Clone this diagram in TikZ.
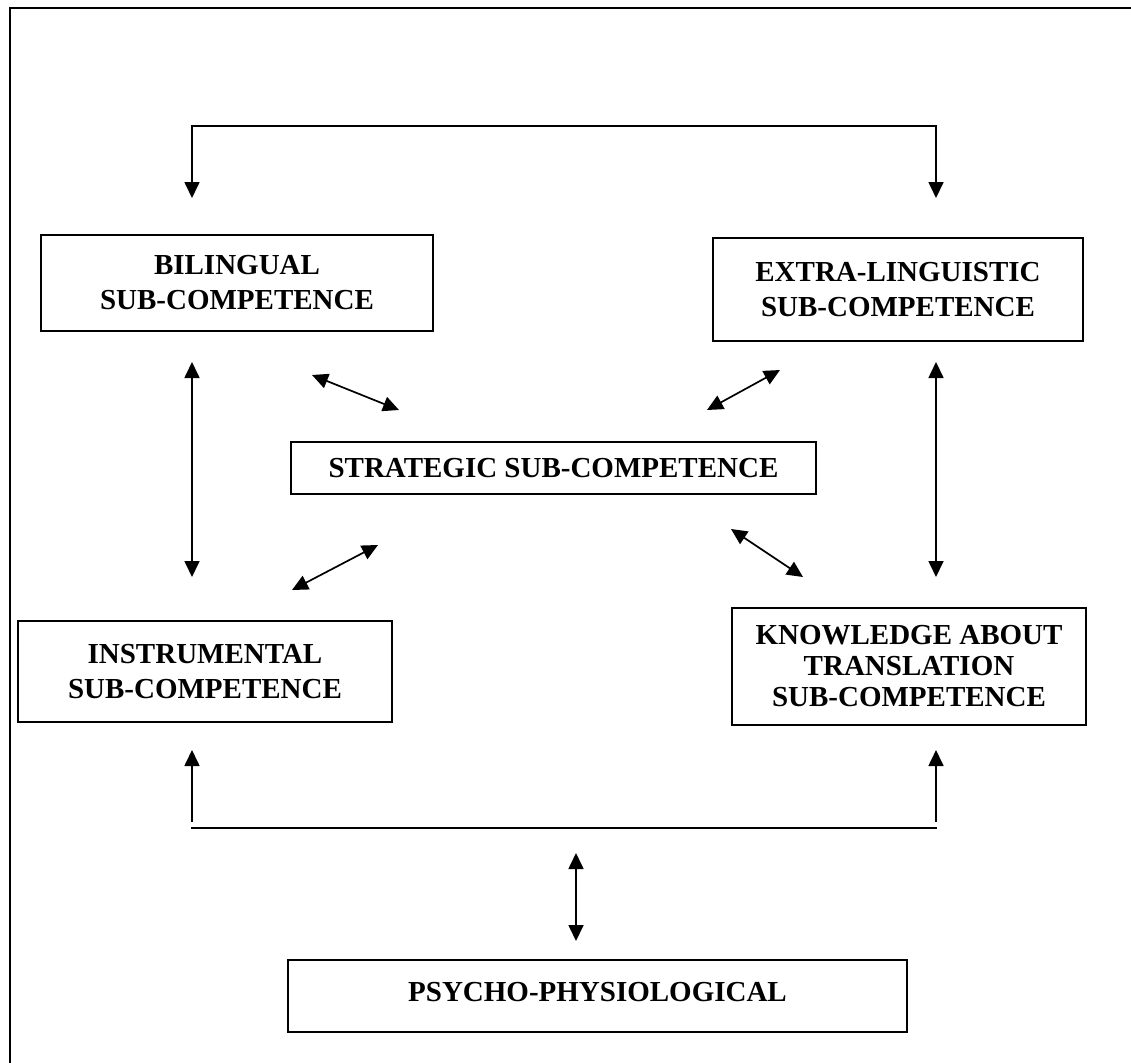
\documentclass[tikz,border=0pt]{standalone}
\usepackage{fontspec}
\setmainfont{Liberation Serif}
\usetikzlibrary{arrows.meta}
\tikzset{compbox/.style={draw,line width=1.7pt,align=center,inner sep=0pt,
    font=\bfseries\fontsize{29}{31}\selectfont}}
\begin{document}
\begin{tikzpicture}[x=1pt,y=-1pt,line width=1.7pt,>={Triangle[length=16pt,width=15pt]}]
    \useasboundingbox(0,0)rectangle(1131,1062);
    \clip(0,0)rectangle(1131,1062);
    \draw[line width=2.2pt](10,8)rectangle(1150,1080);
    % boxes
    \node[compbox,minimum width=392,minimum height=96](bil)at(237,283){BILINGUAL\\[4pt]SUB-COMPETENCE};
    \node[compbox,minimum width=370,minimum height=103](ext)at(898,289.5){EXTRA-LINGUISTIC\\[4pt]SUB-COMPETENCE};
    \node[compbox,minimum width=525,minimum height=52](str)at(553.5,468){STRATEGIC SUB-COMPETENCE};
    \node[compbox,minimum width=374,minimum height=101](ins)at(205,671.5){INSTRUMENTAL\\[4pt]SUB-COMPETENCE};
    \node[compbox,minimum width=354,minimum height=117](kno)at(909,666.5){KNOWLEDGE ABOUT\\TRANSLATION\\SUB-COMPETENCE};
    \node[compbox,line width=2.2pt,minimum width=619,minimum height=72](psy)at(597.5,996){\raisebox{8pt}{PSYCHO-PHYSIOLOGICAL}};
    % arrow ends
    \coordinate(tl)at(192,198);\coordinate(tr)at(936,198);
    \coordinate(ltop)at(192,362);\coordinate(lbot)at(192,577);
    \coordinate(rtop)at(936,362);\coordinate(rbot)at(936,577);
    \coordinate(bl)at(192,750);\coordinate(br)at(936,750);
    \coordinate(blf)at(192,822);\coordinate(brf)at(936,822);
    \coordinate(mtop)at(576,853);\coordinate(mbot)at(576,941);
    \draw[<->](tl)--(192,126)--(936,126)--(tr);
    \draw[<->](ltop)--(lbot);
    \draw[<->](rtop)--(rbot);
    \draw[<->](312,375)--(399,410);
    \draw[<->](707,410)--(780,370);
    \draw[<->](292,590)--(378,545);
    \draw[<->](731,529)--(803,577);
    \draw[->](blf)--(bl);
    \draw[->](brf)--(br);
    \draw(191,828)--(937,828);
    \draw[<->](mtop)--(mbot);
\end{tikzpicture}
\end{document}
